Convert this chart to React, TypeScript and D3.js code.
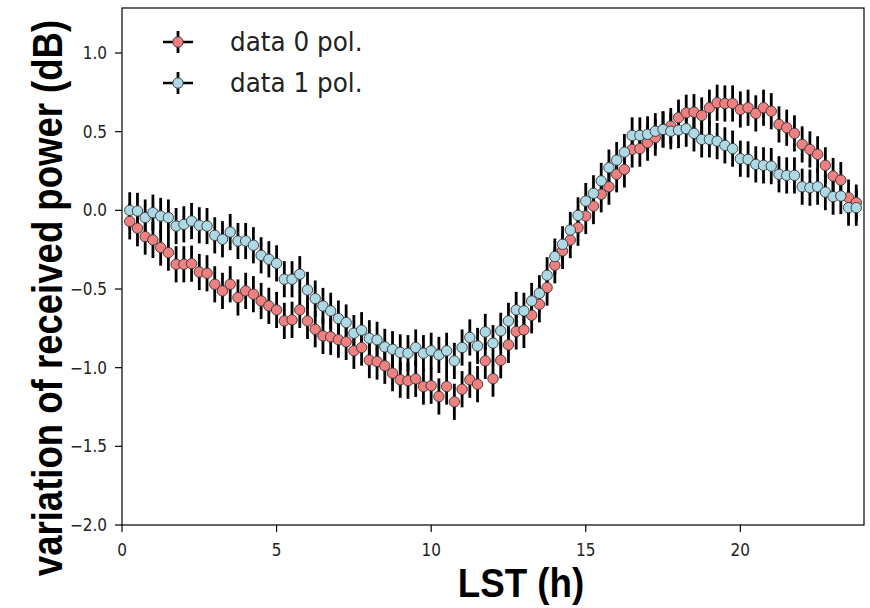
import React from "react";
import * as d3 from "d3";

// Local sidereal time (h) of each bin
const LST_HOURS = [
  0.25, 0.5, 0.75, 1.0, 1.25, 1.5, 1.75, 2.0, 2.25, 2.5, 2.75, 3.0, 3.25, 3.5, 3.75, 4.0,
  4.25, 4.5, 4.75, 5.0, 5.25, 5.5, 5.75, 6.0, 6.25, 6.5, 6.75, 7.0, 7.25, 7.5, 7.75, 8.0,
  8.25, 8.5, 8.75, 9.0, 9.25, 9.5, 9.75, 10.0, 10.25, 10.5, 10.75, 11.0, 11.25, 11.5, 11.75, 12.0,
  12.25, 12.5, 12.75, 13.0, 13.25, 13.5, 13.75, 14.0, 14.25, 14.5, 14.75, 15.0, 15.25, 15.5, 15.75, 16.0,
  16.25, 16.5, 16.75, 17.0, 17.25, 17.5, 17.75, 18.0, 18.25, 18.5, 18.75, 19.0, 19.25, 19.5, 19.75, 20.0,
  20.25, 20.5, 20.75, 21.0, 21.25, 21.5, 21.75, 22.0, 22.25, 22.5, 22.75, 23.0, 23.25, 23.5, 23.75,
];

// data 0 pol. (dB)
const POL0 = [
  -0.07, -0.114, -0.167, -0.188, -0.237, -0.269, -0.343, -0.343, -0.339, -0.392, -0.4, -0.47, -0.512, -0.47, -0.554, -0.512,
  -0.533, -0.576, -0.607, -0.633, -0.703, -0.696, -0.633, -0.703, -0.756, -0.798, -0.804, -0.822, -0.836, -0.893, -0.872, -0.952,
  -0.961, -0.988, -1.035, -1.077, -1.083, -1.071, -1.12, -1.115, -1.183, -1.12, -1.217, -1.137, -1.077, -1.105, -0.957, -1.07,
  -0.953, -0.855, -0.77, -0.76, -0.667, -0.597, -0.491, -0.349, -0.258, -0.189, -0.11, -0.036, 0.027, 0.102, 0.15, 0.229,
  0.26, 0.387, 0.392, 0.43, 0.462, 0.514, 0.535, 0.589, 0.62, 0.624, 0.603, 0.652, 0.684, 0.679, 0.679, 0.641,
  0.652, 0.616, 0.652, 0.63, 0.546, 0.525, 0.489, 0.419, 0.387, 0.356, 0.286, 0.218, 0.192, 0.081, 0.049,
];

// data 1 pol. (dB)
const POL1 = [
  0.0, -0.004, -0.046, -0.015, -0.036, -0.046, -0.1, -0.089, -0.068, -0.095, -0.1, -0.159, -0.184, -0.138, -0.195, -0.195,
  -0.222, -0.286, -0.311, -0.337, -0.438, -0.438, -0.406, -0.506, -0.561, -0.608, -0.639, -0.688, -0.713, -0.781, -0.762, -0.813,
  -0.823, -0.868, -0.883, -0.903, -0.908, -0.872, -0.908, -0.893, -0.919, -0.893, -0.957, -0.872, -0.808, -0.862, -0.773, -0.844,
  -0.766, -0.703, -0.633, -0.639, -0.576, -0.527, -0.413, -0.294, -0.216, -0.125, -0.032, 0.059, 0.108, 0.187, 0.271, 0.319,
  0.37, 0.476, 0.476, 0.483, 0.503, 0.514, 0.503, 0.51, 0.519, 0.489, 0.451, 0.451, 0.44, 0.413, 0.392, 0.328,
  0.324, 0.292, 0.286, 0.281, 0.229, 0.222, 0.222, 0.15, 0.144, 0.15, 0.116, 0.087, 0.091, 0.017, 0.017,
];

const ERROR_DB = 0.115;

const X_TICKS = [0, 5, 10, 15, 20];
const Y_TICKS = [-2.0, -1.5, -1.0, -0.5, 0.0, 0.5, 1.0];
const SERIES_NAMES = ["data 0 pol.", "data 1 pol."];
const SERIES_COLORS = ["#F08080", "#ADD8E6"];

const W = 870;
const H = 608;
const PL = 122, PR = 864, PT = 8, PB = 525;

export default function App() {
  const x = d3.scaleLinear().domain([0, 24]).range([PL, PR]);
  const y = d3.scaleLinear().domain([-2, 1.286]).range([PB, PT]);
  const fmt = (v: number) => d3.format(".1f")(v).replace("-", "\u2212");
  const series = [POL0, POL1];

  const hText = (cx: number, cy: number, sx: number, content: string, props: any) => (
    <text transform={`translate(${cx},${cy}) scale(${sx},1)`} {...props}>{content}</text>
  );

  return (
    <svg width={W} height={H} style={{ position: "absolute", left: 0, top: 0, background: "#fff" }}>
      <rect x={0} y={0} width={W} height={H} fill="#fff" />
      {/* error bars */}
      {series.map((vals, s) => (
        <g key={"eb" + s}>
          {vals.map((v, i) => (
            <line key={i} x1={x(LST_HOURS[i])} x2={x(LST_HOURS[i])} y1={y(v - ERROR_DB)} y2={y(v + ERROR_DB)}
              stroke="#000" strokeWidth={2.8} />
          ))}
        </g>
      ))}
      {/* markers */}
      {series.map((vals, s) => (
        <g key={"mk" + s}>
          {vals.map((v, i) => (
            <circle key={i} cx={x(LST_HOURS[i])} cy={y(v)} r={5.2} fill={SERIES_COLORS[s]} stroke="#333" strokeWidth={0.9} />
          ))}
        </g>
      ))}
      {/* frame */}
      <rect x={PL} y={PT} width={PR - PL} height={PB - PT} fill="none" stroke="#000" strokeWidth={1.2} />
      {/* y ticks */}
      {Y_TICKS.map((t) => (
        <g key={"y" + t}>
          <line x1={PL - 7} x2={PL} y1={y(t)} y2={y(t)} stroke="#000" strokeWidth={1.2} />
          {hText(107, y(t) + 6, 0.9, fmt(t), { fontFamily: "DejaVu Sans", fontSize: 17, fill: "#222", textAnchor: "end" })}
        </g>
      ))}
      {/* x ticks */}
      {X_TICKS.map((t) => (
        <g key={"x" + t}>
          <line x1={x(t)} x2={x(t)} y1={PB} y2={PB + 7} stroke="#000" strokeWidth={1.2} />
          {hText(x(t), 556, 0.9, String(t), { fontFamily: "DejaVu Sans", fontSize: 17, fill: "#222", textAnchor: "middle" })}
        </g>
      ))}
      {/* axis labels */}
      {hText(521, 597, 0.92, "LST (h)", { fontFamily: "Liberation Sans", fontWeight: "bold", fontSize: 40, fill: "#000", textAnchor: "middle" })}
      <text transform={`translate(62,298) rotate(-90) scale(0.85,1)`} fontFamily="Liberation Sans" fontWeight="bold" fontSize={43}
        fill="#000" textAnchor="middle">variation of received power (dB)</text>
      {/* legend */}
      {SERIES_NAMES.map((name, s) => {
        const ly = 42 + s * 41;
        return (
          <g key={"lg" + s}>
            <line x1={163} x2={193} y1={ly} y2={ly} stroke="#000" strokeWidth={2.5} />
            <line x1={178} x2={178} y1={ly - 11} y2={ly + 11} stroke="#000" strokeWidth={2.8} />
            <circle cx={178} cy={ly} r={5.2} fill={SERIES_COLORS[s]} stroke="#333" strokeWidth={0.9} />
            {hText(230, ly + 9, 0.95, name, { fontFamily: "DejaVu Sans", fontSize: 26, fill: "#222" })}
          </g>
        );
      })}
    </svg>
  );
}
